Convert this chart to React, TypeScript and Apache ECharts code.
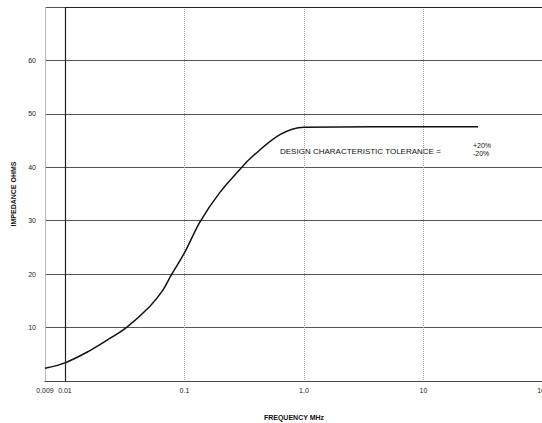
import React, { useEffect, useRef } from "react";
import * as echarts from "echarts";

// Impedance curve (frequency MHz, ohms)
const frequencies = [0.00681, 0.01, 0.0162, 0.0224, 0.033, 0.0515, 0.066, 0.077, 0.1, 0.135, 0.198, 0.297, 0.353, 0.629, 1.0, 28.6];
const impedance = [2.4, 3.4, 5.7, 7.6, 10.1, 14.0, 17.0, 19.7, 24.0, 29.8, 35.3, 39.8, 41.6, 46.1, 47.5, 47.6];

const xTickValues = [0.00681, 0.01, 0.1, 1, 10, 100];
const xTickLabels = ["0.009", "0.01", "0.1", "1.0", "10", "100"];
const yTickLabels = ["", "10", "20", "30", "40", "50", "60", ""];

const annotation = "DESIGN CHARACTERISTIC TOLERANCE =";
const tolPlus = "+20%";
const tolMinus = "-20%";

export default function App() {
  const ref = useRef<HTMLDivElement>(null);
  useEffect(() => {
    document.body.style.margin = "0";
    const chart = echarts.init(ref.current!, null, { renderer: "svg" });
    const font = "Liberation Sans, Arial, sans-serif";
    chart.setOption({
      animation: false,
      backgroundColor: "#ffffff",
      grid: { left: 45, top: 7, width: 498, height: 374, containLabel: false, outerBoundsMode: "none" },
      xAxis: {
        type: "log",
        logBase: 10,
        min: 0.00681,
        max: 100,
        name: "FREQUENCY MHz",
        nameLocation: "middle",
        nameGap: 33,
        nameTextStyle: { fontSize: 7, fontWeight: "bold", color: "#111", fontFamily: font },
        axisLine: { show: true, lineStyle: { color: "#444", width: 1.2 } },
        axisTick: { show: false },
        axisLabel: {
          fontSize: 7,
          color: "#222",
          fontFamily: font,
          margin: 6,
          showMinLabel: true,
          showMaxLabel: true,
          hideOverlap: false,
          formatter: (v: number) => {
            let best = 0;
            let bd = Infinity;
            xTickValues.forEach((t, i) => {
              const d = Math.abs(Math.log10(t) - Math.log10(v));
              if (d < bd) { bd = d; best = i; }
            });
            return xTickLabels[best];
          },
        },
        splitLine: { show: true, lineStyle: { color: "#aaa", type: [1, 1], width: 1 } },
      },
      yAxis: {
        type: "value",
        min: 0,
        max: 70,
        interval: 10,
        name: "IMPEDANCE OHMS",
        nameLocation: "middle",
        nameGap: 28,
        nameRotate: 90,
        nameTextStyle: { fontSize: 7, fontWeight: "bold", color: "#111", fontFamily: font },
        axisLine: { show: true, lineStyle: { color: "#bbb", type: [1, 1] } },
        axisTick: { show: false },
        axisLabel: {
          fontSize: 7,
          color: "#222",
          fontFamily: font,
          margin: 9,
          formatter: (v: number) => yTickLabels[Math.round(v / 10)] ?? "",
        },
        splitLine: { show: true, lineStyle: { color: "#555", width: 1 } },
      },
      series: [
        {
          type: "line",
          smooth: 0.35,
          showSymbol: false,
          lineStyle: { color: "#111", width: 1.5 },
          data: frequencies.map((f, i) => [f, impedance[i]]),
          markLine: {
            silent: true,
            symbol: "none",
            label: { show: false },
            lineStyle: { color: "#222", type: "solid", width: 1.2 },
            data: [
              [{ coord: [0.01, 0] }, { coord: [0.01, 70] }],
              [{ coord: [0.01, 70] }, { coord: [100, 70] }],
            ],
          },
        },
      ],
      graphic: [
        { type: "text", left: 280, top: 147, style: { text: annotation, fontSize: 8, fill: "#111", fontFamily: font } },
        { type: "text", left: 473, top: 142, style: { text: tolPlus, fontSize: 7, fill: "#111", fontFamily: font } },
        { type: "text", left: 473, top: 150, style: { text: tolMinus, fontSize: 7, fill: "#111", fontFamily: font } },
      ],
    });
    return () => chart.dispose();
  }, []);
  return <div ref={ref} style={{ position: "fixed", left: 0, top: 0, width: 542, height: 423 }} />;
}
